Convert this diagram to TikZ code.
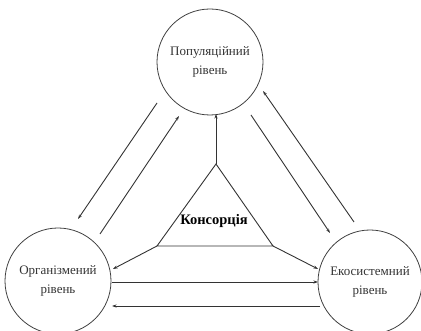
\documentclass[tikz,border=0pt]{standalone}
\usepackage{fontspec}
\setmainfont{Liberation Serif}
\usetikzlibrary{arrows.meta}
\begin{document}
\begin{tikzpicture}[x=1pt,y=-1pt,
  lvl/.style={circle,draw=black!75,line width=0.8pt,minimum size=106pt,inner sep=0pt,
    align=center,font=\fontsize{13}{19.5}\selectfont,text=black!80},
  conn/.style={draw=black!80,line width=0.9pt,-{Stealth[length=4.5pt,width=3pt]}},
  plain/.style={draw=black!80,line width=0.9pt}]
\useasboundingbox (0,0) rectangle (421,331);
\node[lvl] (T) at (210,62) {Популяційний\\рівень};
\node[lvl] (L) at (58,281) {Організмений\\рівень};
\node[lvl,minimum size=104pt] (R) at (370,282) {Екосистемний\\рівень};
% triangle
\coordinate (apex) at (216,164);
\coordinate (bl) at (157,246);
\coordinate (br) at (273,246);
\draw[plain] (apex) -- (bl) -- (br) -- cycle;
\node[font=\fontsize{14.5}{17}\bfseries\selectfont] (K) at (214,221) {Консорція};
% from triangle
\coordinate (tT) at (216,114);
\coordinate (tL) at (113,269);
\coordinate (tR) at (318,269);
\draw[conn] (apex) -- (tT);
\draw[conn] (bl) -- (tL);
\draw[conn] (br) -- (tR);
% horizontal
\coordinate (h1a) at (112,282);
\coordinate (h1b) at (318,282);
\coordinate (h2a) at (320,306);
\coordinate (h2b) at (112,306);
\draw[conn] (h1a) -- (h1b);
\draw[conn] (h2a) -- (h2b);
% diagonals left
\coordinate (d1a) at (157,103);
\coordinate (d1b) at (78,219);
\coordinate (d2a) at (100,234);
\coordinate (d2b) at (179,116);
\draw[conn] (d1a) -- (d1b);
\draw[conn] (d2a) -- (d2b);
% diagonals right
\coordinate (d3a) at (251,115);
\coordinate (d3b) at (330,233);
\coordinate (d4a) at (354,222);
\coordinate (d4b) at (263,91);
\draw[conn] (d3a) -- (d3b);
\draw[conn] (d4a) -- (d4b);
\end{tikzpicture}
\end{document}
